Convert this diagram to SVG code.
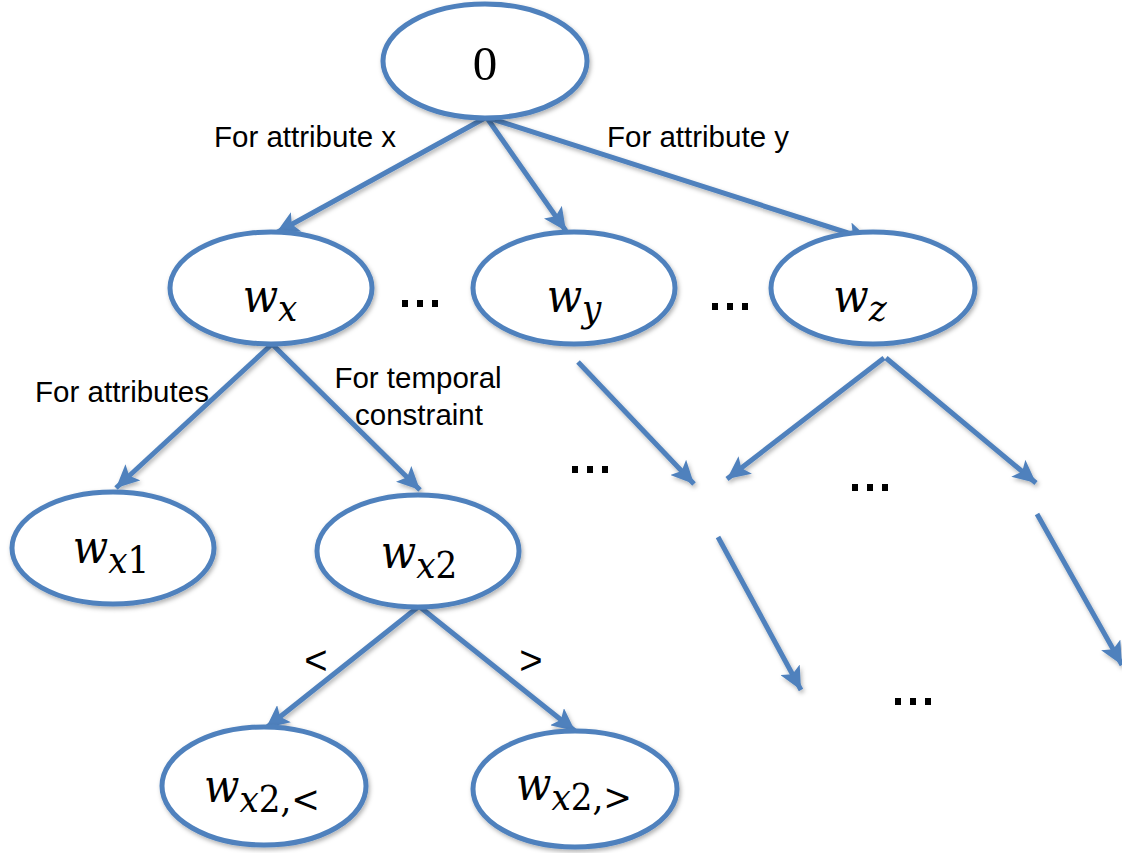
<svg xmlns="http://www.w3.org/2000/svg" width="1122" height="853" viewBox="0 0 1122 853">
  <defs>
    <marker id="arrow" markerUnits="userSpaceOnUse" markerWidth="26" markerHeight="22" refX="23" refY="11" orient="auto">
      <path d="M0,0 L23,11 L0,22 L5,11 Z" fill="#4F81BD"/>
    </marker>
    <filter id="shadow" x="-10%" y="-10%" width="120%" height="130%">
      <feDropShadow dx="1.5" dy="2.5" stdDeviation="2" flood-color="#000" flood-opacity="0.3"/>
    </filter>
  </defs>
  <style>
    .node ellipse { fill: #ffffff; stroke: #4F81BD; stroke-width: 5; filter: url(#shadow); }
    .edge { stroke: #4F81BD; stroke-width: 5; fill: none; marker-end: url(#arrow); filter: url(#shadow); }
    .math { font-family: "DejaVu Serif Condensed", "DejaVu Serif", "Liberation Serif", serif; font-style: italic; font-size: 46px; fill: #000; }
    .sub { font-size: 38px; }
    .up { font-style: normal; }
    .label { font-family: "Liberation Sans", Arial, sans-serif; font-size: 29.5px; fill: #000; }
    .rel { font-family: "Liberation Sans", Arial, sans-serif; font-size: 40px; fill: #000; }
    .dots { fill: #000; }
  </style>
  <rect width="1122" height="853" fill="#ffffff"/>

  <!-- connectors -->
  <g id="connectors">
    <line class="edge" x1="485" y1="118" x2="276" y2="233"/>
    <line class="edge" x1="487" y1="118" x2="566" y2="231"/>
    <line class="edge" x1="489" y1="118" x2="870" y2="240"/>
    <line class="edge" x1="271" y1="345" x2="116" y2="488"/>
    <line class="edge" x1="273" y1="345" x2="420" y2="490"/>
    <line class="edge" x1="418" y1="607" x2="266" y2="728"/>
    <line class="edge" x1="420" y1="607" x2="575" y2="731"/>
    <line class="edge" x1="578" y1="362" x2="694" y2="484"/>
    <line class="edge" x1="884" y1="358" x2="727" y2="479"/>
    <line class="edge" x1="886" y1="358" x2="1036" y2="483"/>
    <line class="edge" x1="718" y1="537" x2="801" y2="690"/>
    <line class="edge" x1="1037" y1="514" x2="1122" y2="665"/>
  </g>

  <!-- nodes -->
  <g id="node-root" class="node">
    <ellipse cx="485" cy="61" rx="102" ry="57"/>
    <text x="485" y="80" text-anchor="middle" font-family="Liberation Serif, serif" font-size="49">0</text>
  </g>
  <g id="node-wx" class="node">
    <ellipse cx="271" cy="288" rx="101" ry="56"/>
    <text class="math" x="270" y="312" text-anchor="middle">w<tspan class="sub" dy="9">x</tspan></text>
  </g>
  <g id="node-wy" class="node">
    <ellipse cx="574" cy="288" rx="101" ry="56"/>
    <text class="math" x="574" y="312" text-anchor="middle">w<tspan class="sub" dy="9">y</tspan></text>
  </g>
  <g id="node-wz" class="node">
    <ellipse cx="873" cy="288" rx="102" ry="56"/>
    <text class="math" x="860" y="312" text-anchor="middle">w<tspan class="sub" dy="9">z</tspan></text>
  </g>
  <g id="node-wx1" class="node">
    <ellipse cx="113" cy="548" rx="101" ry="56"/>
    <text class="math" x="111" y="563" text-anchor="middle">w<tspan class="sub" dy="10">x<tspan class="up">1</tspan></tspan></text>
  </g>
  <g id="node-wx2" class="node">
    <ellipse cx="418" cy="551" rx="101" ry="56"/>
    <text class="math" x="419" y="568" text-anchor="middle">w<tspan class="sub" dy="10">x<tspan class="up">2</tspan></tspan></text>
  </g>
  <g id="node-wx2-lt" class="node">
    <ellipse cx="264" cy="786" rx="102" ry="59"/>
    <text class="math" x="262" y="802" text-anchor="middle">w<tspan class="sub" dy="10">x<tspan class="up">2,&lt;</tspan></tspan></text>
  </g>
  <g id="node-wx2-gt" class="node">
    <ellipse cx="575" cy="789" rx="102" ry="58"/>
    <text class="math" x="574" y="800" text-anchor="middle">w<tspan class="sub" dy="10">x<tspan class="up">2,&gt;</tspan></tspan></text>
  </g>

  <!-- edge labels -->
  <g id="labels">
    <text class="label" x="305" y="147" text-anchor="middle">For attribute x</text>
    <text class="label" x="698" y="147" text-anchor="middle">For attribute y</text>
    <text class="label" x="122" y="402" text-anchor="middle">For attributes</text>
    <text class="label" x="418" y="388" text-anchor="middle">For temporal</text>
    <text class="label" x="419" y="425" text-anchor="middle">constraint</text>
    <text class="rel" x="316" y="674" text-anchor="middle">&lt;</text>
    <text class="rel" x="531" y="674" text-anchor="middle">&gt;</text>
  </g>

  <!-- ellipsis marks -->
  <g id="ellipses" class="dots">
    <rect x="402" y="300" width="6" height="7"/><rect x="417" y="300" width="6" height="7"/><rect x="432" y="300" width="6" height="7"/>
    <rect x="712" y="303" width="6" height="7"/><rect x="727" y="303" width="6" height="7"/><rect x="742" y="303" width="6" height="7"/>
    <rect x="572" y="466" width="6" height="7"/><rect x="587" y="466" width="6" height="7"/><rect x="602" y="466" width="6" height="7"/>
    <rect x="852" y="484" width="6" height="7"/><rect x="867" y="484" width="6" height="7"/><rect x="882" y="484" width="6" height="7"/>
    <rect x="895" y="698" width="6" height="7"/><rect x="910" y="698" width="6" height="7"/><rect x="925" y="698" width="6" height="7"/>
  </g>
</svg>
